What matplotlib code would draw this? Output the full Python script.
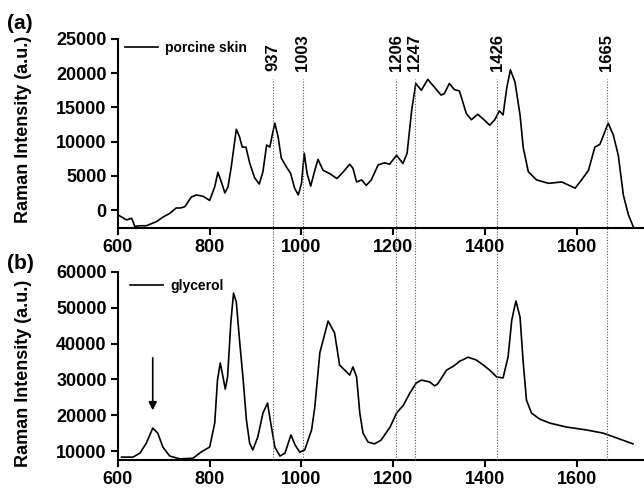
import matplotlib
matplotlib.use('Agg')
from matplotlib import pyplot as plt
from matplotlib.lines import Line2D
from matplotlib.transforms import blended_transform_factory

# (a) porcine skin spectrum
skin_x = [600, 619, 630, 637, 648, 662, 684, 699, 713, 727, 737, 746, 760, 771, 786, 800,
          811, 818, 826, 833, 840, 847, 858, 865, 871, 879, 887, 898, 908, 916, 924, 931,
          937, 942, 949, 956, 967, 976, 985, 993, 1000, 1006, 1012, 1020, 1029, 1036, 1047,
          1062, 1077, 1090, 1105, 1112, 1120, 1131, 1141, 1152, 1167, 1181, 1192, 1207,
          1221, 1230, 1240, 1249, 1261, 1275, 1289, 1304, 1311, 1322, 1333, 1344, 1359,
          1370, 1384, 1399, 1410, 1421, 1431, 1439, 1447, 1455, 1465, 1476, 1483, 1494,
          1512, 1538, 1567, 1596, 1610, 1625, 1639, 1650, 1668, 1679, 1690, 1701, 1712, 1723]
skin_y = [-700, -1450, -1200, -2400, -2300, -2300, -1700, -1000, -500, 300, 300, 500, 1900,
          2200, 2000, 1400, 3400, 5500, 4000, 2500, 3400, 6300, 11800, 10700, 9200, 9200,
          6900, 4700, 3800, 5600, 9500, 9200, 11200, 12700, 10700, 7600, 6300, 5400, 3200,
          2200, 3900, 8300, 5400, 3500, 5800, 7400, 5800, 5300, 4600, 5500, 6700, 6100,
          4100, 4400, 3600, 4400, 6600, 6900, 6700, 8000, 6800, 8300, 14600, 18500, 17500,
          19100, 18000, 16800, 17000, 18500, 17600, 17400, 14100, 13200, 14000, 13100, 12400,
          13200, 14500, 13900, 17800, 20500, 18700, 13900, 9100, 5600, 4400, 3900, 4100,
          3200, 4400, 5800, 9200, 9600, 12700, 11000, 8000, 2200, -700, -2500]

# (b) glycerol spectrum
gly_x = [608, 633, 648, 662, 676, 687, 698, 713, 735, 764, 778, 789, 800, 811, 817, 823,
         829, 834, 839, 846, 852, 858, 865, 873, 880, 887, 894, 905, 916, 926, 933, 942,
         953, 964, 977, 986, 996, 1007, 1022, 1029, 1040, 1058, 1072, 1083, 1098, 1105,
         1112, 1120, 1127, 1134, 1145, 1159, 1173, 1193, 1207, 1222, 1236, 1250, 1261,
         1279, 1290, 1297, 1316, 1331, 1345, 1363, 1381, 1396, 1410, 1425, 1439, 1450,
         1458, 1467, 1476, 1483, 1490, 1501, 1519, 1541, 1577, 1620, 1657, 1679, 1722]
gly_y = [8300, 8300, 9400, 12200, 16400, 15000, 11100, 8600, 7800, 8000, 9400, 10300, 11100,
         17800, 29800, 34600, 30700, 27300, 30700, 45800, 54100, 51600, 41000, 29800, 18700,
         12200, 10300, 14000, 20600, 23400, 17800, 11100, 8600, 9400, 14500, 11700, 9700,
         10300, 15900, 22300, 37500, 46300, 43000, 34000, 32100, 31200, 33500, 30700, 20600,
         15000, 12500, 12000, 13000, 16700, 20600, 22800, 26200, 29000, 29800, 29300, 28200,
         28800, 32600, 33700, 35100, 36200, 35400, 34000, 32600, 30700, 30400, 36300, 46600,
         51900, 47400, 34600, 24200, 20600, 18900, 17800, 16700, 15900, 15000, 14000, 12000]

peaks = [937, 1003, 1206, 1247, 1426, 1665]
x_ticks = [600, 800, 1000, 1200, 1400, 1600]
skin_ticks = [0, 5000, 10000, 15000, 20000, 25000]
gly_ticks = [10000, 20000, 30000, 40000, 50000, 60000]
arrow_x = 676
arrow_from = 36800
arrow_to = 20600

plt.rcParams['font.family'] = ['Liberation Sans', 'DejaVu Sans']
plt.rcParams['font.weight'] = 'bold'
plt.rcParams['axes.labelweight'] = 'bold'

fig = plt.figure(figsize=(6.44, 4.91), dpi=100)
ax1 = fig.add_axes([0.183, 0.5356, 0.817, 0.385])
ax2 = fig.add_axes([0.183, 0.0631, 0.817, 0.383])

ax1.plot(skin_x, skin_y, color='black', lw=1.2, label='porcine skin')
ax2.plot(gly_x, gly_y, color='black', lw=1.2, label='glycerol')

ax1.set_ylim(-2630, 25000)
ax2.set_ylim(7490, 60000)
ax1.set_yticks(skin_ticks)
ax2.set_yticks(gly_ticks)

for ax, ly in [(ax1, 0.52), (ax2, 0.46)]:
    ax.set_xlim(600, 1746)
    ax.set_xticks(x_ticks)
    ax.spines['top'].set_visible(False)
    ax.spines['right'].set_visible(False)
    ax.spines['left'].set_linewidth(1.5)
    ax.spines['bottom'].set_linewidth(1.5)
    ax.tick_params(direction='out', length=5, width=1.5, labelsize=13, pad=3)
    for lab in ax.get_xticklabels() + ax.get_yticklabels():
        lab.set_fontweight('bold')
    ax.set_ylabel('Raman Intensity (a.u.)', fontsize=13, fontweight='bold')
    ax.yaxis.set_label_coords(-0.163, ly)

ax1.legend(loc='upper left', bbox_to_anchor=(0.013, 0.99), frameon=False, borderpad=0,
           borderaxespad=0, handlelength=2.4, handletextpad=0.5,
           prop={'size': 10, 'weight': 'bold'})
ax2.legend(loc='upper left', bbox_to_anchor=(0.023, 0.965), frameon=False, borderpad=0,
           borderaxespad=0, handlelength=2.4, handletextpad=0.5,
           prop={'size': 10, 'weight': 'bold'})

# dotted marker lines running through both panels
trans = blended_transform_factory(ax1.transData, fig.transFigure)
for p in peaks:
    fig.add_artist(Line2D([p, p], [0.0631, 0.839], transform=trans, color='#555555',
                          lw=0.8, ls=(0, (1, 1.5))))
    ax1.text(p, 0.83, str(p), transform=ax1.get_xaxis_transform(), rotation=90,
             ha='center', va='bottom', fontsize=12, fontweight='bold')

ax2.annotate('', xy=(arrow_x, arrow_to), xytext=(arrow_x, arrow_from),
             arrowprops=dict(arrowstyle='-|>', color='black', lw=1.2, mutation_scale=12))

fig.text(0.031, 0.953, '(a)', fontsize=15, fontweight='bold', ha='center', va='center')
fig.text(0.031, 0.464, '(b)', fontsize=15, fontweight='bold', ha='center', va='center')

fig.savefig('out.png', dpi=100)
